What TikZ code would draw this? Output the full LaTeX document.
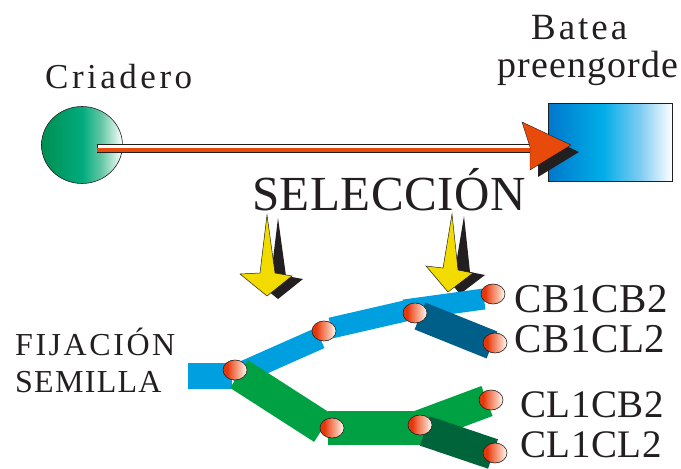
\documentclass[tikz,border=0pt]{standalone}
\usepackage{fontspec}
\setmainfont{Liberation Serif}
\usetikzlibrary{shapes.geometric}
\definecolor{txt}{HTML}{231F20}
\definecolor{redo}{HTML}{E84A0C}
\definecolor{ylw}{HTML}{F2DC00}
\definecolor{cyanb}{HTML}{00A0E0}
\definecolor{darkb}{HTML}{005F89}
\definecolor{gr}{HTML}{00A142}
\definecolor{darkg}{HTML}{00643A}
\pgfdeclarehorizontalshading{eggsh}{100bp}{
  rgb(0bp)=(0.90,0.22,0.04);
  rgb(34bp)=(0.90,0.22,0.04);
  rgb(44bp)=(0.94,0.42,0.28);
  rgb(54bp)=(0.96,0.60,0.48);
  rgb(64bp)=(0.98,0.78,0.70);
  rgb(73bp)=(1,0.97,0.95);
  rgb(100bp)=(1,0.97,0.95)}
\pgfdeclarehorizontalshading{grsh}{100bp}{
  rgb(0bp)=(0,0.56,0.32);
  rgb(25bp)=(0,0.56,0.32);
  rgb(50bp)=(0,0.67,0.49);
  rgb(62bp)=(0.40,0.78,0.65);
  rgb(75bp)=(1,1,1);
  rgb(100bp)=(1,1,1)}
\pgfdeclarehorizontalshading{blsh}{100bp}{
  rgb(0bp)=(0,0.47,0.80);
  rgb(25bp)=(0,0.47,0.80);
  rgb(47bp)=(0,0.68,0.91);
  rgb(62bp)=(0.50,0.80,0.95);
  rgb(75bp)=(1,1,1);
  rgb(100bp)=(1,1,1)}
\tikzset{
  lbl/.style={inner sep=0pt, text=txt, anchor=base west},
  egg/.style={ellipse, draw=txt, line width=0.6pt, minimum width=24pt, minimum height=20pt, inner sep=0pt,
     shading=eggsh},
  seg/.style={line width=#1, line cap=butt},
  yarrow/.style={fill=ylw, draw=txt, line width=0.5pt, line join=miter},
}
\newcommand{\sz}[2]{\fontsize{#1}{#1}\selectfont\addfontfeatures{LetterSpace=#2}}
\begin{document}
\begin{tikzpicture}[x=1pt,y=-1pt]
\useasboundingbox (0,0) rectangle (681,469);
% texts
\node[lbl] (tcri) at (45,88) {\sz{35}{10}Criadero};
\node[lbl] (tbat) at (531,39) {\sz{37}{8}Batea};
\node[lbl] (tpre) at (497,77) {\sz{38}{3}preengorde};
\node[lbl] (tsel) at (252,210) {\sz{49}{1}SELECCIÓN};
\node[lbl] (tfij) at (15,355) {\sz{32}{8}FIJACIÓN};
\node[lbl] (tsem) at (15,392) {\sz{32}{4}SEMILLA};
\node[lbl] (t1) at (514,312) {\sz{41}{1.5}CB1CB2};
\node[lbl] (t2) at (514,352) {\sz{41}{1.5}CB1CL2};
\node[lbl] (t3) at (520,417) {\sz{39}{1.5}CL1CB2};
\node[lbl] (t4) at (520,457) {\sz{39}{1.5}CL1CL2};
% criadero ellipse
\node[ellipse, draw=txt, line width=0.6pt, minimum width=81pt, minimum height=77pt, inner sep=0pt,
  shading=grsh] (cri) at (82,145) {};
% batea rect
\node[rectangle, draw=txt, line width=0.6pt, minimum width=124pt, minimum height=78pt, inner sep=0pt,
  shading=blsh, anchor=north west] (bat) at (548,103) {};
% main arrow shaft
\coordinate (s0) at (97,144);
\coordinate (s1) at (530,152);
\filldraw[fill=white, draw=txt, line width=0.5pt] (s0) rectangle (s1);
\fill[redo] (97,148) rectangle (530,152);
% arrow head shadow and head
\fill[txt] (530,129) -- (579,152) -- (538,177) -- (538,154) -- cycle;
\filldraw[fill=redo, draw=txt, line width=0.4pt] (522,122) -- (571,145) -- (530,170) -- (530,147) -- cycle;
% yellow arrows
\begin{scope}[shift={(11,3)}]
\fill[txt] (267,215) -- (275,273) -- (292,276) -- (267,296) -- (240,274) -- (260,273) -- cycle;
\end{scope}
\filldraw[yarrow] (267,215) -- (275,273) -- (292,276) -- (267,296) -- (240,274) -- (260,273) -- cycle;
\begin{scope}[shift={(12,2)}]
\fill[txt] (452,214) -- (458,270) -- (473,273) -- (448,292) -- (426,266) -- (443,268) -- cycle;
\end{scope}
\filldraw[yarrow] (452,214) -- (458,270) -- (473,273) -- (448,292) -- (426,266) -- (443,268) -- cycle;
% egg nodes positions
\coordinate (p1) at (235,370);
\coordinate (p2) at (324,331);
\coordinate (p3) at (415,313);
\coordinate (p4) at (493,294);
\coordinate (p5) at (495,343);
\coordinate (p6) at (332,428);
\coordinate (p7) at (420,425);
\coordinate (p8) at (491,400);
\coordinate (p9) at (495,453);
% blue branch
\fill[cyanb] (188,363) rectangle (232,389);
\draw[cyanb, seg=22pt] (232,377) -- (320,338);
\draw[cyanb, seg=21pt] (331,328) -- (405,311);
\draw[cyanb, seg=21pt] (404,310) -- (484,299);
\draw[darkb, seg=29pt] (420,316) -- (492,345);
% green branch
\draw[gr, seg=33pt] (239,374) -- (323,428);
\fill[gr] (328,411) rectangle (425,445);
\draw[gr, seg=32pt] (420,426) -- (487,401);
\draw[darkg, seg=31pt] (425,431) -- (493,454);
% eggs
\node[egg] (e1) at (p1) {};
\node[egg] (e2) at (p2) {};
\node[egg] (e3) at (p3) {};
\node[egg] (e4) at (p4) {};
\node[egg] (e5) at (p5) {};
\node[egg] (e6) at (p6) {};
\node[egg] (e7) at (p7) {};
\node[egg] (e8) at (p8) {};
\node[egg] (e9) at (p9) {};
\end{tikzpicture}
\end{document}
